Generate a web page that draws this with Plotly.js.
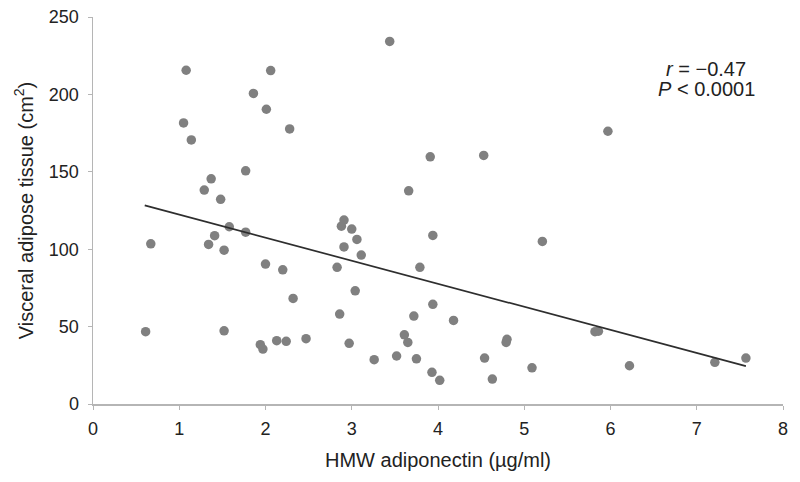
<!DOCTYPE html>
<html>
<head>
<meta charset="utf-8">
<script src="https://cdn.plot.ly/plotly-3.0.1.min.js"></script>
<style>html,body{margin:0;padding:0;background:#fff;}#chart{width:800px;height:482px;}</style>
</head>
<body>
<div id="chart"></div>
<script>
// HMW adiponectin (µg/ml)
const hmwAdiponectin = [0.61,0.67,1.08,1.05,1.14,1.29,1.37,1.34,1.41,1.48,1.52,1.58,1.52,1.77,1.77,1.86,2.01,2.06,2.28,1.94,1.97,2.00,2.13,2.24,2.20,2.32,2.47,2.91,2.88,3.00,3.06,2.91,3.11,2.83,3.04,2.86,2.97,3.26,3.44,3.91,4.53,3.66,5.97,3.94,5.21,3.79,3.94,3.72,4.18,3.61,3.65,5.82,5.86,4.80,4.79,3.52,3.75,4.54,3.93,4.02,4.63,5.09,6.22,7.21,7.57];
// Visceral adipose tissue (cm²)
const visceralAT = [46.7,103.5,215.6,181.6,170.6,138.2,145.5,103.1,108.7,132.2,99.4,114.5,47.3,150.6,111.0,200.6,190.4,215.4,177.7,38.3,35.5,90.4,40.9,40.5,86.7,68.2,42.2,118.8,114.9,113.0,106.3,101.5,96.2,88.3,73.1,58.1,39.2,28.6,234.2,159.7,160.6,137.7,176.2,108.9,105.0,88.3,64.4,56.8,54.0,44.7,39.8,46.7,47.0,41.8,39.8,31.0,29.2,29.7,20.5,15.3,16.1,23.4,24.7,26.9,29.7];
// Linear trend line endpoints
const trendX = [0.60, 7.57];
const trendY = [128.3, 24.5];
const xTicks = [0,1,2,3,4,5,6,7,8];
const yTicks = [0,50,100,150,200,250];
const statsText = ['<i>r</i> = −0.47', '<i>P</i> < 0.0001'];

const font = 'Liberation Sans, Arial, Helvetica, sans-serif';
const textColor = '#222222';

const traces = [
  {
    x: hmwAdiponectin, y: visceralAT, type: 'scatter', mode: 'markers',
    marker: {color: '#808080', size: 9.5, line: {width: 0}},
    hoverinfo: 'x+y', showlegend: false
  },
  {
    x: trendX, y: trendY, type: 'scatter', mode: 'lines',
    line: {color: '#2e2e2e', width: 1.7},
    hoverinfo: 'skip', showlegend: false
  }
];

// plot area: x 93..783 px, y 17..404 px
const plotTop = 17, plotBottom = 404, plotH = plotBottom - plotTop;
const pyToPaper = py => (plotBottom - py) / plotH;

const layout = {
  width: 800, height: 482,
  margin: {l: 93, r: 17, t: 17, b: 78},
  paper_bgcolor: '#ffffff', plot_bgcolor: '#ffffff',
  font: {family: font, size: 18, color: textColor},
  showlegend: false,
  xaxis: {
    range: [0, 8], tickvals: xTicks, ticktext: xTicks.map(String),
    showgrid: false, zeroline: false,
    showline: true, linecolor: '#b5b5b5', linewidth: 1.5,
    ticks: 'outside', ticklen: 4, tickcolor: '#b5b5b5', tickwidth: 1,
    ticklabelstandoff: 4,
    tickfont: {family: font, size: 18, color: textColor},
    title: {text: 'HMW adiponectin (µg/ml)', font: {family: font, size: 20, color: textColor}, standoff: 15}
  },
  yaxis: {
    range: [0, 250], tickvals: yTicks, ticktext: yTicks.map(String),
    showgrid: false, zeroline: false,
    showline: true, linecolor: '#b5b5b5', linewidth: 1.5,
    ticks: 'outside', ticklen: 4, tickcolor: '#b5b5b5', tickwidth: 1,
    ticklabelstandoff: 5,
    tickfont: {family: font, size: 18, color: textColor},
    title: {text: 'Visceral adipose tissue (cm<sup>2</sup>)', font: {family: font, size: 20, color: textColor}, standoff: 10}
  },
  annotations: [
    {
      xref: 'paper', yref: 'paper', x: (706 - 93) / 690, y: pyToPaper(68.5),
      xanchor: 'center', yanchor: 'middle', showarrow: false, align: 'center',
      text: statsText[0],
      font: {family: font, size: 20, color: textColor}
    },
    {
      xref: 'paper', yref: 'paper', x: (706 - 93) / 690, y: pyToPaper(89),
      xanchor: 'center', yanchor: 'middle', showarrow: false, align: 'center',
      text: statsText[1],
      font: {family: font, size: 20, color: textColor}
    }
  ]
};

Plotly.newPlot('chart', traces, layout, {displayModeBar: false, staticPlot: true});
</script>
</body>
</html>
